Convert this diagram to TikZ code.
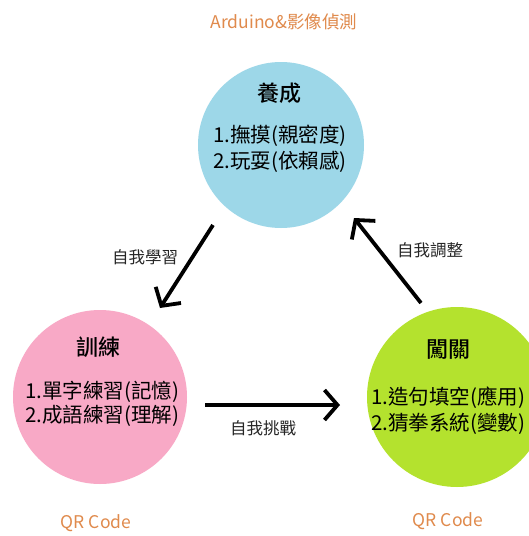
\documentclass[tikz,border=0pt]{standalone}
\usepackage{fontspec}
\setmainfont{Liberation Sans}
\newfontfamily\cjk{Noto Sans CJK TC}
\newfontfamily\cjkmed{Noto Sans CJK TC Medium}
\usetikzlibrary{arrows.meta}
\definecolor{cblue}{HTML}{9DD7E8}
\definecolor{cpink}{HTML}{F8A9C6}
\definecolor{cgreen}{HTML}{B4E22E}
\definecolor{corange}{HTML}{E08A4C}
\tikzset{
  stage/.style={circle, inner sep=0pt, draw=none},
  title/.style={font=\cjkmed\fontsize{22}{24}\selectfont, text=black},
  item/.style={font=\cjk\fontsize{20.5}{22}\selectfont, text=black},
  tag/.style={font=\cjk\fontsize{17.5}{20}\selectfont, text=corange},
  edgelabel/.style={font=\cjk\fontsize{16.5}{18}\selectfont, text=black!85},
  flow/.style={line width=3.8pt, black, -{Straight Barb[length=13pt,width=30pt,line width=3.8pt]}}
}
\begin{document}
\begin{tikzpicture}[x=1pt,y=-1pt]
\useasboundingbox (0,0) rectangle (529,536);
\fill[white] (0,0) rectangle (529,536);
% circles
\node[stage, fill=cblue, minimum size=166pt] (top) at (281,145) {};
\node[stage, fill=cpink, minimum size=174pt] (left) at (100,397) {};
\node[stage, fill=cgreen, minimum size=180pt] (right) at (457,397) {};
% top text
\node[tag] (arduino) at (284,22) {Arduino\&影像偵測};
\node[title] (t1) at (279,93) {養成};
\node[item] (t2) at (280,136) {1.撫摸(親密度)};
\node[item] (t3) at (280,162) {2.玩耍(依賴感)};
% left text
\node[title] (l1) at (98,347) {訓練};
\node[item] (l2) at (102,392) {1.單字練習(記憶)};
\node[item] (l3) at (102,416) {2.成語練習(理解)};
\node[tag] (qr1) at (96,523) {QR Code};
% right text
\node[title] (r1) at (448,350) {闖關};
\node[item] (r2) at (448,398) {1.造句填空(應用)};
\node[item] (r3) at (448,424) {2.猜拳系統(變數)};
\node[tag] (qr2) at (448,521) {QR Code};
% arrows
\coordinate (a1s) at (213,225);
\coordinate (a1e) at (160,308);
\coordinate (a2s) at (205,405);
\coordinate (a2e) at (340,405);
\coordinate (a3s) at (421,303);
\coordinate (a3e) at (354,218);
\draw[flow] (a1s) -- (a1e);
\draw[flow] (a2s) -- (a2e);
\draw[flow] (a3s) -- (a3e);
\node[edgelabel] (e1) at (145,257) {自我學習};
\node[edgelabel] (e2) at (263,428) {自我挑戰};
\node[edgelabel] (e3) at (430,250) {自我調整};
\end{tikzpicture}
\end{document}
